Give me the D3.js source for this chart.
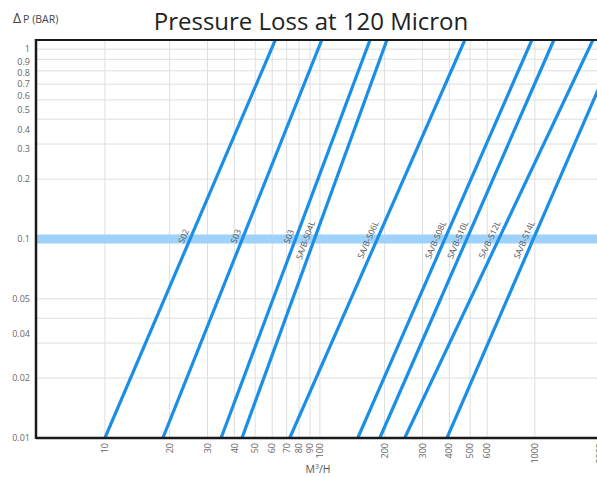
<!doctype html>
<html>
<head>
<meta charset="utf-8">
<script src="https://d3js.org/d3.v7.min.js"></script>
<style>
  body { margin: 0; background: #fff; }
  text { font-family: "Open Sans", "Noto Sans", sans-serif; }
</style>
</head>
<body>
<svg width="597" height="477"></svg>
<script>
// filter curves: flow (M3/H) at 0.01 bar and at 1 bar
var series = ["S02", "S03", "S03", "SA/B-S04L", "SA/B-S06L", "SA/B-S08L", "SA/B-S10L", "SA/B-S12L", "SA/B-S14L"];
var flowAtLow = [10, 18.6, 34.7, 43.4, 72.4, 150, 190, 248, 390];
var flowAtHigh = [62, 102, 171, 205, 472, 968, 1225, 1862, 2480];
var pressLow = 0.01, pressHigh = 1;

var xTicks = [10, 20, 30, 40, 50, 60, 70, 80, 90, 100, 200, 300, 400, 500, 600, 1000, 2000];
var yGrid = [0.9, 0.8, 0.7, 0.6, 0.5, 0.4, 0.3, 0.2, 0.05, 0.04, 0.03, 0.02];
// labels as printed on the chart and where they sit
var yLabels = ["1", "0.9", "0.8", "0.7", "0.6", "0.5", "0.4", "0.3", "0.2", "0.1", "0.05", "0.04", "0.02", "0.01"];
var yLabelAt = [0.9, 0.78, 0.68, 0.6, 0.525, 0.445, 0.353, 0.283, 0.2, 0.1, 0.05, 0.0333, 0.02, 0.01];
var bandValue = 0.1;

var svg = d3.select("svg");
var pLeft = 36, pRight = 597, pTop = 40, pBottom = 438;

var x = d3.scaleLog().domain([4.78, 1945]).range([pLeft, pRight]);
var y = d3.scaleLog().domain([0.01, 1]).range([pBottom, pTop]);

var defs = svg.append("defs");
defs.append("clipPath").attr("id", "plot")
  .append("rect").attr("x", pLeft).attr("y", pTop).attr("width", pRight - pLeft).attr("height", pBottom - pTop);

var g = svg.append("g").attr("clip-path", "url(#plot)");

// grid
g.selectAll(".vg").data(xTicks).enter().append("line")
  .attr("x1", d => x(d)).attr("x2", d => x(d))
  .attr("y1", pTop).attr("y2", pBottom)
  .attr("stroke", "#dedede").attr("stroke-width", 1);

g.selectAll(".hg").data(yGrid).enter().append("line")
  .attr("x1", pLeft).attr("x2", pRight)
  .attr("y1", d => y(d)).attr("y2", d => y(d))
  .attr("stroke", "#dedede").attr("stroke-width", 1);

// 0.1 bar band
g.append("line")
  .attr("x1", pLeft).attr("x2", pRight)
  .attr("y1", y(bandValue)).attr("y2", y(bandValue))
  .attr("stroke", "#9fd2fa").attr("stroke-width", 9);

// curves
g.selectAll(".curve").data(series).enter().append("line")
  .attr("x1", (d, i) => x(flowAtLow[i])).attr("y1", y(pressLow))
  .attr("x2", (d, i) => x(flowAtHigh[i])).attr("y2", y(pressHigh))
  .attr("stroke", "#1b8fe8").attr("stroke-width", 3.2);

// labels along curves near 0.1 bar
series.forEach(function(name, i) {
  var x0 = x(flowAtLow[i]), y0 = y(pressLow), x1 = x(flowAtHigh[i]), y1 = y(pressHigh);
  var ang = Math.atan2(y1 - y0, x1 - x0);
  var yc = y(bandValue) + (name.length > 4 ? 4 : 0);
  var t = (yc - y0) / (y1 - y0);
  var px = x0 + t * (x1 - x0), py = yc;
  // offset to the left side of the line
  var off = name.length > 4 ? 8 : 7;
  var nx = Math.sin(ang) * off, ny = -Math.cos(ang) * off;
  svg.append("text")
    .attr("transform", "translate(" + (px + nx) + "," + (py + ny) + ") rotate(" + (ang * 180 / Math.PI) + ")")
    .attr("text-anchor", "middle")
    .attr("dy", "0.35em")
    .attr("font-size", 8.5)
    .attr("fill", "#555")
    .text(name);
});

// frame
svg.append("line").attr("x1", pLeft).attr("x2", pRight).attr("y1", pTop).attr("y2", pTop)
  .attr("stroke", "#1a1a1a").attr("stroke-width", 2);
svg.append("line").attr("x1", pLeft).attr("x2", pRight).attr("y1", pBottom).attr("y2", pBottom)
  .attr("stroke", "#1a1a1a").attr("stroke-width", 2.5);
svg.append("line").attr("x1", pLeft).attr("x2", pLeft).attr("y1", pTop - 1).attr("y2", pBottom + 1)
  .attr("stroke", "#1a1a1a").attr("stroke-width", 2.5);

// y labels
svg.selectAll(".yl").data(yLabels).enter().append("text")
  .attr("x", 30).attr("y", (d, i) => y(yLabelAt[i]))
  .attr("dy", "0.35em")
  .attr("text-anchor", "end")
  .attr("font-size", 9)
  .attr("fill", "#666")
  .text(d => d);

// x labels
svg.selectAll(".xl").data(xTicks).enter().append("text")
  .attr("transform", d => "translate(" + x(d) + "," + (pBottom + 5) + ") rotate(-90)")
  .attr("dy", "0.35em")
  .attr("text-anchor", "end")
  .attr("font-size", 9)
  .attr("fill", "#666")
  .text(d => d);

svg.append("text")
  .attr("x", 318).attr("y", 473)
  .attr("text-anchor", "middle")
  .attr("font-size", 10.5)
  .attr("fill", "#555")
  .html("M<tspan font-size='7' dy='-4'>3</tspan><tspan dy='4'>/H</tspan>");

// axis title and chart title
var yt = svg.append("text").attr("x", 13).attr("y", 23).attr("fill", "#444");
yt.append("tspan").attr("font-size", 14).text("Δ");
yt.append("tspan").attr("font-size", 10.5).attr("dx", 2).text("P (BAR)");

svg.append("text")
  .attr("x", 311).attr("y", 30)
  .attr("text-anchor", "middle")
  .attr("font-size", 24)
  .attr("fill", "#222")
  .text("Pressure Loss at 120 Micron");
</script>
</body>
</html>
